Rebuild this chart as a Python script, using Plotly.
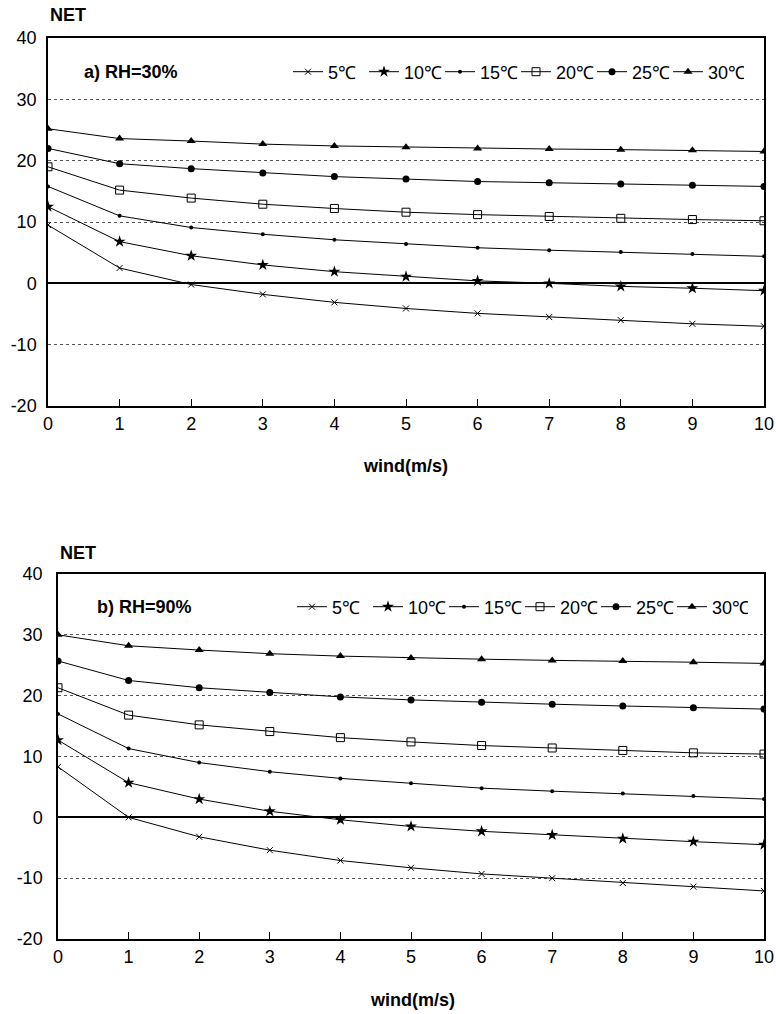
import plotly.graph_objects as go

wind = [0, 1, 2, 3, 4, 5, 6, 7, 8, 9, 10]
temps = ["5℃", "10℃", "15℃", "20℃", "25℃", "30℃"]

# Panel a) RH=30%
a_5 = [9.5, 2.5, -0.2, -1.8, -3.1, -4.1, -4.9, -5.5, -6.0, -6.6, -7.0]
a_10 = [12.5, 6.8, 4.5, 3.0, 1.9, 1.1, 0.4, 0.0, -0.5, -0.8, -1.2]
a_15 = [15.8, 11.0, 9.1, 8.0, 7.1, 6.4, 5.8, 5.4, 5.1, 4.8, 4.4]
a_20 = [19.0, 15.2, 13.9, 12.9, 12.2, 11.6, 11.2, 10.9, 10.6, 10.4, 10.2]
a_25 = [22.0, 19.5, 18.7, 18.0, 17.4, 17.0, 16.6, 16.4, 16.2, 16.0, 15.8]
a_30 = [25.2, 23.6, 23.2, 22.7, 22.4, 22.2, 22.0, 21.9, 21.8, 21.7, 21.5]

# Panel b) RH=90%
b_5 = [8.3, 0.0, -3.2, -5.4, -7.1, -8.3, -9.3, -10.0, -10.8, -11.4, -12.1]
b_10 = [12.7, 5.7, 3.0, 1.0, -0.4, -1.5, -2.3, -2.9, -3.5, -4.0, -4.5]
b_15 = [17.0, 11.3, 9.0, 7.5, 6.4, 5.6, 4.8, 4.3, 3.9, 3.5, 3.0]
b_20 = [21.3, 16.8, 15.2, 14.1, 13.1, 12.4, 11.8, 11.4, 11.0, 10.6, 10.4]
b_25 = [25.7, 22.5, 21.3, 20.5, 19.8, 19.3, 18.9, 18.6, 18.3, 18.0, 17.8]
b_30 = [30.0, 28.2, 27.5, 26.9, 26.5, 26.2, 26.0, 25.8, 25.7, 25.5, 25.3]

y_ticks = [-20, -10, 0, 10, 20, 30, 40]
y_tick_text = ["-20", "-10", "0", "10", "20", "30", "40"]

markers = [
    dict(symbol="x-thin", size=6, line=dict(width=1, color="black")),
    dict(symbol="star", size=9),
    dict(symbol="circle", size=4),
    dict(symbol="square-open", size=8, line=dict(width=1, color="black")),
    dict(symbol="circle", size=7),
    dict(symbol="triangle-up", size=8),
]

FONT = "Liberation Sans Narrow, Arial Narrow, Liberation Sans, Arial"

fig = go.Figure()

panels = [
    ([a_5, a_10, a_15, a_20, a_25, a_30], "x", "y", "legend"),
    ([b_5, b_10, b_15, b_20, b_25, b_30], "x2", "y2", "legend2"),
]
for series, xa, ya, lg in panels:
    for name, vals, mk in zip(temps, series, markers):
        fig.add_trace(go.Scatter(
            x=wind, y=vals, name=name, mode="lines+markers",
            line=dict(color="black", width=1),
            marker=dict(color="black", **mk),
            xaxis=xa, yaxis=ya, legend=lg,
        ))

H = 1014.0
W = 776.0

xcommon = dict(
    range=[0, 10], tickvals=wind, ticks="inside", ticklen=7, tickcolor="black",
    showgrid=False, zeroline=False, showline=True, linecolor="black", linewidth=2,
    mirror=True, tickfont=dict(family=FONT, size=18, color="black"), automargin=False,
)
ycommon = dict(
    range=[-20, 40], tickvals=y_ticks, ticktext=y_tick_text, ticks="", showgrid=True,
    gridcolor="#555555", griddash="dot", gridwidth=1,
    zeroline=True, zerolinecolor="black", zerolinewidth=1.5,
    showline=True, linecolor="black", linewidth=1.5, mirror=True,
    tickfont=dict(family=FONT, size=18, color="black"), automargin=False,
)

legend_common = dict(orientation="h", xanchor="left", yanchor="middle",
                     bgcolor="rgba(0,0,0,0)", font=dict(family=FONT, size=18, color="black"),
                     entrywidth=31, entrywidthmode="pixels", itemwidth=30, tracegroupgap=0)

fig.update_layout(
    width=776, height=1014,
    margin=dict(l=0, r=0, t=0, b=0, autoexpand=False),
    paper_bgcolor="white", plot_bgcolor="white",
    showlegend=True,
    xaxis=dict(domain=[48 / W, 764 / W], anchor="y", **xcommon),
    yaxis=dict(domain=[1 - 406 / H, 1 - 38 / H], anchor="x", ticklabelstandoff=6, **ycommon),
    xaxis2=dict(domain=[58 / W, 764 / W], anchor="y2", **xcommon),
    yaxis2=dict(domain=[1 - 939 / H, 1 - 574 / H], anchor="x2", ticklabelstandoff=10, **ycommon),
    legend=dict(x=288 / W, y=1 - 72 / H, **legend_common),
    legend2=dict(x=292 / W, y=1 - 607 / H, **legend_common),
)

bold = dict(family=FONT, size=18, color="black")
ann = [
    ("<b>NET</b>", 48, 15, "left"),
    ("<b>a) RH=30%</b>", 82, 72, "left"),
    ("<b>wind(m/s)</b>", 405, 466, "center"),
    ("<b>NET</b>", 58, 553, "left"),
    ("<b>b) RH=90%</b>", 95, 607, "left"),
    ("<b>wind(m/s)</b>", 412, 1000, "center"),
]
for text, px, py, xa in ann:
    fig.add_annotation(text=text, x=px / W, y=1 - py / H, xref="paper", yref="paper",
                       xanchor=xa, yanchor="middle", showarrow=False, font=bold)

fig.write_html("out.html")
